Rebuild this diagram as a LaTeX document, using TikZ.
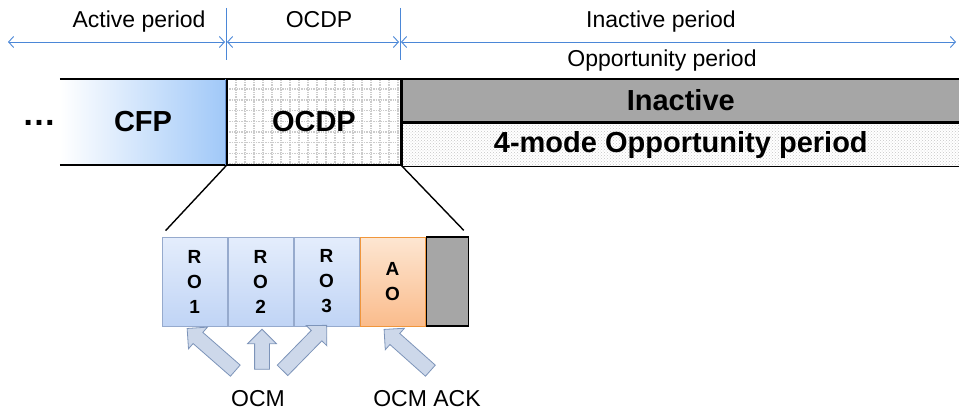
\documentclass[tikz,border=0pt]{standalone}
\usepackage{fontspec}
\setmainfont{Liberation Sans}
\usepackage{xcolor}
\usetikzlibrary{arrows.meta,positioning,patterns,shapes.arrows}
\definecolor{dimblue}{RGB}{75,135,215}
\definecolor{cfpblue}{RGB}{160,200,248}
\definecolor{cfpedge}{RGB}{105,145,205}
\definecolor{rotop}{RGB}{228,237,252}
\definecolor{robot}{RGB}{192,212,245}
\definecolor{roedge}{RGB}{150,170,205}
\definecolor{aotop}{RGB}{253,230,210}
\definecolor{aobot}{RGB}{250,188,140}
\definecolor{aoedge}{RGB}{240,150,60}
\definecolor{darkgray}{RGB}{166,166,166}
\definecolor{arrfill}{RGB}{205,216,234}
\definecolor{arredge}{RGB}{125,148,185}

\begin{document}
\begin{tikzpicture}[
    x=1pt, y=-1pt,
    font=\fontsize{23}{27}\selectfont,
    dim/.style={dimblue, line width=0.9pt, {Straight Barb[length=5pt,width=11pt]}-{Straight Barb[length=5pt,width=11pt]}},
    tick/.style={dimblue, line width=0.9pt},
    big/.style={font=\fontsize{29}{33}\selectfont\bfseries, inner sep=0pt},
    cfpbox/.style={big, left color=white, right color=cfpblue, minimum width=166pt, minimum height=86pt},
    gridbox/.style={big, draw, line width=1.4pt, minimum width=174pt, minimum height=86pt,
        path picture={\draw[gray!40, densely dotted, xstep=9pt, ystep=10.7pt] (path picture bounding box.south west) grid (path picture bounding box.north east);}},
    inactbox/.style={big, draw, line width=1.4pt, fill=darkgray, minimum width=557pt, minimum height=43pt},
    modebox/.style={big, draw, line width=1.4pt, pattern=crosshatch dots, pattern color=gray!45, minimum width=557pt, minimum height=43pt},
    slot/.style={font=\fontsize{19}{25}\selectfont\bfseries, align=center, inner sep=0pt, minimum height=89pt, minimum width=65.2pt, line width=0.8pt},
    robox/.style={slot, top color=rotop, bottom color=robot, draw=roedge},
    aobox/.style={slot, top color=aotop, bottom color=aobot, draw=aoedge},
    endbox/.style={slot, fill=darkgray, draw, line width=1.2pt, minimum width=42pt},
    blockarrow/.style={single arrow, draw=arredge, fill=arrfill, line width=0.8pt, inner xsep=0pt, inner ysep=7pt, minimum width=28pt, single arrow head extend=7pt, single arrow head indent=0pt},
    zoomline/.style={line width=1.4pt}
]
\useasboundingbox (0,0) rectangle (959,409);

\node[anchor=base] (lblactive) at (139,28) {Active period};
\node[anchor=base] (lblocdp) at (319,28) {OCDP};
\node[anchor=base] (lblinact) at (661,28) {Inactive period};
\node[anchor=base] (lblopp) at (662,67) {Opportunity period};
\coordinate (dl) at (8,42);
\coordinate (dr) at (956,42);
\coordinate (t1) at (226,8);
\coordinate (t2) at (400,8);
\draw[tick] (t1) -- ++(0,52);
\draw[tick] (t2) -- ++(0,52);
\draw[dim] (dl) -- ([xshift=-1pt]t1 |- dl);
\draw[dim] ([xshift=1pt]t1 |- dl) -- ([xshift=-1pt]t2 |- dl);
\draw[dim] ([xshift=1pt]t2 |- dl) -- (dr);

\node[font=\fontsize{34}{36}\selectfont\bfseries] (dots) at (39,123) {…};
\node[cfpbox] (cfp) at (143,122) {CFP};
\draw[line width=1.6pt] (cfp.north west) -- (cfp.north east);
\draw[line width=1.6pt] (cfp.south west) -- (cfp.south east);
\draw[cfpedge, line width=2.2pt] (cfp.north east) -- (cfp.south east);
\node[gridbox, right=0pt of cfp] (ocdp) {OCDP};
\node[inactbox, anchor=north west] (inact) at (ocdp.north east) {Inactive};
\node[modebox, below=0pt of inact] (mode) {4-mode Opportunity period};

\node[robox] (ro1) at (194.6,281.5) {R\\O\\1};
\node[robox, right=0pt of ro1] (ro2) {R\\O\\2};
\node[robox, right=0pt of ro2] (ro3) {R\\O\\3};
\node[aobox, right=0pt of ro3] (ao) {A\\O};
\node[endbox, right=0pt of ao] (rest) {};
\draw[zoomline] (ocdp.south west) -- ([shift={(4,-6)}]ro1.north west);
\draw[zoomline] (ocdp.south east) -- ([shift={(-5,-6)}]rest.north east);

\node[blockarrow, rotate=138.8, minimum height=64pt] (a1) at (214,352) {};
\node[blockarrow, rotate=90, minimum height=40pt] (a2) at (262,353) {};
\node[blockarrow, rotate=45.6, minimum height=63pt] (a3) at (302,350.5) {};
\node[blockarrow, rotate=138.3, minimum height=62pt] (a4) at (410,352.5) {};
\node[anchor=base] (ocm) at (258,406) {OCM};
\node[anchor=base] (ocmack) at (427,406) {OCM ACK};
\end{tikzpicture}
\end{document}
